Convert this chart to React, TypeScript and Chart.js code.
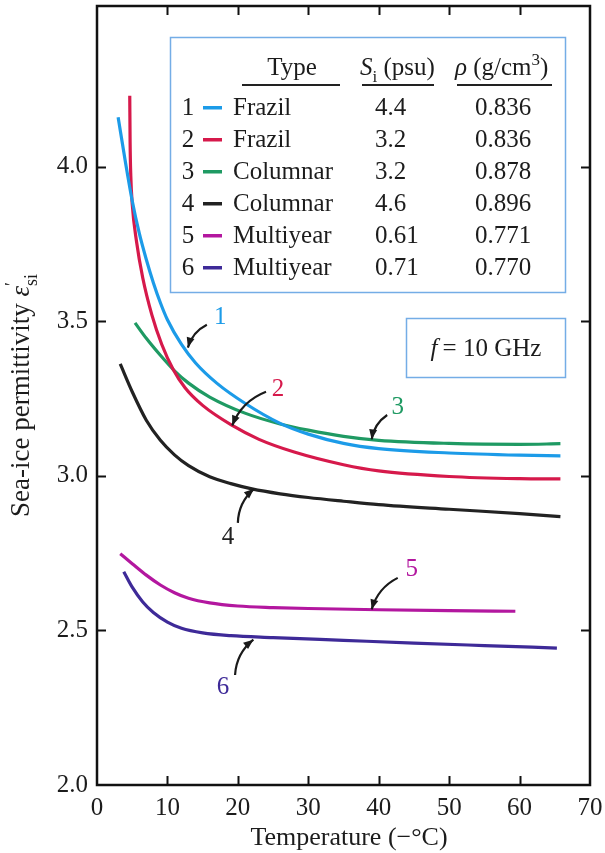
import React, { useEffect, useRef } from 'react';
import { Chart, registerables } from 'chart.js';

Chart.register(...registerables);

const FONT = '"Liberation Serif", "Times New Roman", serif';
const TEXT = '#1c1c1c';

// Axes
const xTicks = [0, 10, 20, 30, 40, 50, 60, 70];
const yTicks = [2.0, 2.5, 3.0, 3.5, 4.0];
const xMin = 0;
const xMax = 70;
const yMin = 2.0;
const yMax = 4.52;

// Legend table content
const seriesIds = ['1', '2', '3', '4', '5', '6'];
const iceTypes = ['Frazil', 'Frazil', 'Columnar', 'Columnar', 'Multiyear', 'Multiyear'];
const salinity = ['4.4', '3.2', '3.2', '4.6', '0.61', '0.71'];
const density = ['0.836', '0.836', '0.878', '0.896', '0.771', '0.770'];
const colors = ['#1c9be8', '#d6194b', '#1f9a63', '#222222', '#b3179f', '#3e2a98'];
const labelColors = ['#1c9be8', '#d6194b', '#1f9a63', '#222222', '#b3179f', '#3e2a98'];

// Series (temperature in -°C, permittivity)
const t1 = [3.0, 4, 5, 6, 7, 8, 9, 10, 12, 14, 17, 21, 26, 30, 35, 40, 50, 60, 65.8];
const e1 = [4.16, 4.02, 3.89, 3.785, 3.70, 3.625, 3.56, 3.505, 3.425, 3.365, 3.30, 3.235, 3.17, 3.135, 3.105, 3.088, 3.074, 3.067, 3.065];

const t2 = [4.65, 4.7, 4.8, 5.0, 5.6, 6.5, 7.8, 9.2, 10.8, 12.5, 15, 19.2, 23, 28, 35, 40, 50, 60, 65.8];
const e2 = [4.23, 4.08, 3.97, 3.88, 3.76, 3.64, 3.52, 3.425, 3.345, 3.285, 3.228, 3.163, 3.118, 3.077, 3.036, 3.016, 2.998, 2.991, 2.99];

const t3 = [5.4, 7, 9, 11, 13, 16, 21, 26, 30, 35, 40, 50, 60, 65.8];
const e3 = [3.495, 3.445, 3.39, 3.34, 3.30, 3.255, 3.203, 3.168, 3.148, 3.128, 3.115, 3.105, 3.102, 3.104];

const t4 = [3.3, 5, 7, 9, 11, 13, 16, 19, 22, 26, 30, 35, 40, 50, 60, 65.8];
const e4 = [3.362, 3.272, 3.18, 3.115, 3.068, 3.033, 2.997, 2.975, 2.958, 2.942, 2.93, 2.918, 2.907, 2.892, 2.878, 2.868];

const t5 = [3.3, 5, 7, 9, 11, 13, 16, 20, 25, 30, 40, 50, 59.4];
const e5 = [2.748, 2.716, 2.679, 2.647, 2.622, 2.604, 2.589, 2.579, 2.574, 2.571, 2.567, 2.564, 2.562];

const t6 = [3.8, 5, 6.5, 8, 10, 12, 15, 19, 25, 35, 45, 55, 65.3];
const e6 = [2.69, 2.64, 2.592, 2.558, 2.527, 2.507, 2.492, 2.483, 2.477, 2.468, 2.459, 2.451, 2.443];

const seriesT = [t1, t2, t3, t4, t5, t6];
const seriesE = [e1, e2, e3, e4, e5, e6];

// Curve labels with arrows (data units)
const labelT = [17.5, 25.7, 42.7, 18.6, 44.7, 17.9];
const labelE = [3.511, 3.278, 3.223, 2.80, 2.696, 2.314];
const arrowFromT = [15.6, 24.0, 41.2, 20.0, 42.7, 19.6];
const arrowFromE = [3.489, 3.272, 3.197, 2.848, 2.67, 2.356];
const arrowToT = [12.9, 19.2, 39.0, 22.3, 39.0, 22.2];
const arrowToE = [3.415, 3.163, 3.118, 2.958, 2.568, 2.47];

type Seg = { t: string; it?: boolean; sub?: boolean; sup?: boolean; noAdv?: boolean };

const fontFor = (s: Seg, size: number) => {
  const sz = s.sub || s.sup ? Math.round(size * 0.68) : size;
  return `${s.it ? 'italic ' : ''}${sz}px ${FONT}`;
};

const drawRich = (ctx: CanvasRenderingContext2D, segs: Seg[], x: number, y: number, align: 'left' | 'center' | 'right', size = 25) => {
  ctx.textAlign = 'left';
  ctx.textBaseline = 'alphabetic';
  const widths = segs.map((s) => {
    ctx.font = fontFor(s, size);
    return ctx.measureText(s.t).width;
  });
  const total = segs.reduce((a, s, i) => a + (s.noAdv ? 0 : widths[i]), 0);
  let cx = align === 'center' ? x - total / 2 : align === 'right' ? x - total : x;
  segs.forEach((s, i) => {
    ctx.font = fontFor(s, size);
    const dy = s.sub ? size * 0.28 : s.sup ? -size * 0.4 : 0;
    ctx.fillText(s.t, cx, y + dy);
    if (!s.noAdv) cx += widths[i];
  });
};

const decor = {
  id: 'decor',
  afterDatasetsDraw(chart: any) {
    const ctx: CanvasRenderingContext2D = chart.ctx;
    const { left, right, top, bottom } = chart.chartArea;
    const xs = chart.scales.x;
    const ys = chart.scales.y;
    ctx.save();

    // frame
    ctx.strokeStyle = '#111';
    ctx.lineWidth = 2.5;
    ctx.strokeRect(left, top, right - left, bottom - top);
    // inward ticks
    ctx.lineWidth = 2;
    ctx.beginPath();
    yTicks.forEach((v) => {
      if (v === yMin) return;
      const py = Math.round(ys.getPixelForValue(v)) + 0.5;
      ctx.moveTo(left, py); ctx.lineTo(left + 9, py);
      ctx.moveTo(right, py); ctx.lineTo(right - 9, py);
    });
    xTicks.forEach((v) => {
      if (v === xMin || v === xMax) return;
      const px = Math.round(xs.getPixelForValue(v)) + 0.5;
      ctx.moveTo(px, bottom); ctx.lineTo(px, bottom - 9);
      ctx.moveTo(px, top); ctx.lineTo(px, top + 9);
    });
    ctx.stroke();

    // curve labels + arrows
    for (let i = 0; i < labelT.length; i++) {
      const lx = xs.getPixelForValue(labelT[i]);
      const ly = ys.getPixelForValue(labelE[i]);
      ctx.fillStyle = labelColors[i];
      ctx.font = `25px ${FONT}`;
      ctx.textAlign = 'center';
      ctx.textBaseline = 'middle';
      ctx.fillText(seriesIds[i], lx, ly);

      const ax = xs.getPixelForValue(arrowFromT[i]);
      const ay = ys.getPixelForValue(arrowFromE[i]);
      const bx = xs.getPixelForValue(arrowToT[i]);
      const by = ys.getPixelForValue(arrowToE[i]);
      const dx = bx - ax, dy = by - ay;
      const len = Math.hypot(dx, dy);
      let nx = -dy / len, ny = dx / len;
      if (nx + ny > 0) { nx = -nx; ny = -ny; }
      const cx = (ax + bx) / 2 + nx * len * 0.22;
      const cy = (ay + by) / 2 + ny * len * 0.22;
      ctx.strokeStyle = '#1a1a1a';
      ctx.lineWidth = 2.2;
      ctx.beginPath();
      ctx.moveTo(ax, ay);
      ctx.quadraticCurveTo(cx, cy, bx, by);
      ctx.stroke();
      const ang = Math.atan2(by - cy, bx - cx);
      ctx.fillStyle = '#1a1a1a';
      ctx.beginPath();
      ctx.moveTo(bx, by);
      ctx.lineTo(bx - 10 * Math.cos(ang) + 4 * Math.sin(ang), by - 10 * Math.sin(ang) - 4 * Math.cos(ang));
      ctx.lineTo(bx - 10 * Math.cos(ang) - 4 * Math.sin(ang), by - 10 * Math.sin(ang) + 4 * Math.cos(ang));
      ctx.closePath();
      ctx.fill();
    }

    // legend table box
    const bx0 = 170, by0 = 37, bw = 395, bh = 255;
    ctx.fillStyle = '#ffffff';
    ctx.fillRect(bx0, by0, bw, bh);
    ctx.strokeStyle = '#74ade6';
    ctx.lineWidth = 1.5;
    ctx.strokeRect(bx0 + 0.5, by0 + 0.5, bw, bh);

    ctx.fillStyle = TEXT;
    drawRich(ctx, [{ t: 'Type' }], 292, 75, 'center');
    drawRich(ctx, [{ t: 'S', it: true }, { t: 'i', sub: true }, { t: ' (psu)' }], 360, 75, 'left');
    drawRich(ctx, [{ t: 'ρ', it: true }, { t: ' (g/cm' }, { t: '3', sup: true }, { t: ')' }], 455, 75, 'left');
    ctx.fillStyle = '#222';
    ctx.fillRect(242, 84, 98, 2);
    ctx.fillRect(362, 84, 72, 2);
    ctx.fillRect(457, 84, 95, 2);

    for (let i = 0; i < seriesIds.length; i++) {
      const base = 115 + i * 32;
      ctx.fillStyle = TEXT;
      drawRich(ctx, [{ t: seriesIds[i] }], 188, base, 'center');
      ctx.fillStyle = colors[i];
      ctx.fillRect(203, base - 9, 19, 3.5);
      ctx.fillStyle = TEXT;
      drawRich(ctx, [{ t: iceTypes[i] }], 233, base, 'left');
      drawRich(ctx, [{ t: salinity[i] }], 375, base, 'left');
      drawRich(ctx, [{ t: density[i] }], 475, base, 'left');
    }

    // frequency box
    ctx.fillStyle = '#ffffff';
    ctx.fillRect(406, 318, 159, 59);
    ctx.strokeStyle = '#74ade6';
    ctx.lineWidth = 1.5;
    ctx.strokeRect(406.5, 318.5, 159, 59);
    ctx.fillStyle = TEXT;
    drawRich(ctx, [{ t: 'f', it: true }, { t: '\u2009= 10 GHz' }], 486, 356, 'center');

    // axis titles
    drawRich(ctx, [{ t: 'Temperature (−°C)' }], 349, 845, 'center', 26);
    ctx.save();
    ctx.translate(29, (top + bottom) / 2);
    ctx.rotate(-Math.PI / 2);
    drawRich(ctx, [
      { t: 'Sea-ice permittivity ' },
      { t: 'ε', it: true },
      { t: '′', sup: true, noAdv: true },
      { t: 'si', sub: true },
    ], 0, 0, 'center', 27);
    ctx.restore();

    ctx.restore();
  },
};

const zeroPad = (s: any) => {
  s.paddingTop = 0;
  s.paddingBottom = 0;
  s.paddingLeft = 0;
  s.paddingRight = 0;
};

export default function App() {
  const ref = useRef<HTMLCanvasElement | null>(null);

  useEffect(() => {
    if (!ref.current) return;
    const datasets = seriesT.map((ts, k) => ({
      label: `${seriesIds[k]} ${iceTypes[k]}`,
      data: ts.map((t, i) => ({ x: t, y: seriesE[k][i] })),
      borderColor: colors[k],
      backgroundColor: colors[k],
      borderWidth: 3.2,
      pointRadius: 0,
      fill: false,
      cubicInterpolationMode: 'monotone' as const,
    }));
    const chart = new Chart(ref.current, {
      type: 'line',
      data: { datasets },
      options: {
        animation: false,
        responsive: false,
        devicePixelRatio: 1,
        layout: { padding: { top: 6, right: 15, left: 0, bottom: 0 } },
        plugins: { legend: { display: false }, tooltip: { enabled: false } },
        scales: {
          x: {
            type: 'linear',
            min: xMin,
            max: xMax,
            afterBuildTicks: (s: any) => { s.ticks = xTicks.map((v) => ({ value: v })); },
            afterFit: (s: any) => { s.height = 68; zeroPad(s); },
            grid: { display: false, drawTicks: false },
            border: { display: false },
            ticks: {
              font: { family: FONT, size: 25 },
              color: TEXT,
              padding: 8,
              maxRotation: 0,
              autoSkip: false,
              callback: (v: any) => String(v),
            },
          },
          y: {
            type: 'linear',
            min: yMin,
            max: yMax,
            afterBuildTicks: (s: any) => { s.ticks = yTicks.map((v) => ({ value: v })); },
            afterFit: (s: any) => { s.width = 97; zeroPad(s); },
            grid: { display: false, drawTicks: false },
            border: { display: false },
            ticks: {
              font: { family: FONT, size: 25 },
              color: TEXT,
              padding: 9,
              autoSkip: false,
              callback: (v: any) => Number(v).toFixed(1),
            },
          },
        },
      },
      plugins: [decor],
    });
    return () => chart.destroy();
  }, []);

  return (
    <div style={{ position: 'fixed', left: 0, top: 0, width: 605, height: 853, background: '#fff' }}>
      <canvas ref={ref} width={605} height={853} style={{ display: 'block', width: 605, height: 853 }} />
    </div>
  );
}
